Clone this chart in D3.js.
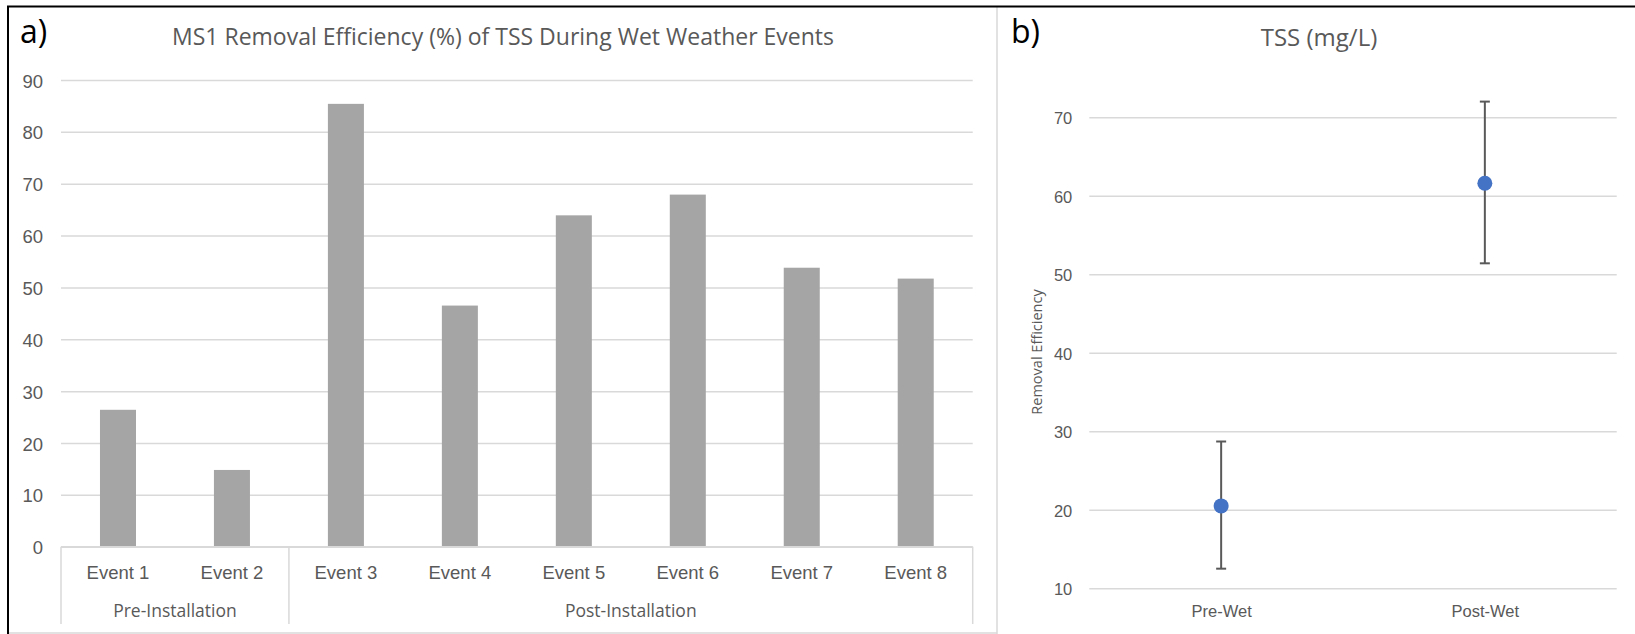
<!DOCTYPE html>
<html>
<head>
<meta charset="utf-8">
<script src="https://cdn.jsdelivr.net/npm/d3@7"></script>
<style>
  body { margin: 0; background: #fff; }
  svg { display: block; font-family: 'Open Sans', sans-serif; }
  .axis .domain { display: none; }
  .axis line { stroke: #d9d9d9; stroke-width: 1.5; }
  .axis text { fill: #595959; }
</style>
</head>
<body>
<div class="chart"></div>
<script>
// panel a data
const events = ['Event 1', 'Event 2', 'Event 3', 'Event 4', 'Event 5', 'Event 6', 'Event 7', 'Event 8'];
const efficiency = [26.4, 14.8, 85.4, 46.5, 63.9, 67.9, 53.8, 51.7];
const phases = ['Pre-Installation', 'Post-Installation'];
const phaseEvents = [2, 6];
const ticksA = [0, 10, 20, 30, 40, 50, 60, 70, 80, 90];

// panel b data
const groups = ['Pre-Wet', 'Post-Wet'];
const means = [20.5, 61.6];
const errLow = [12.5, 51.4];
const errHigh = [28.7, 72.0];
const ticksB = [10, 20, 30, 40, 50, 60, 70];

const W = 1635, H = 634;
const textCol = '#595959', gridCol = '#d9d9d9';

const svg = d3.select('.chart').append('svg')
    .attr('width', W).attr('height', H);

// frame: light panel borders + black top/left edge
svg.append('line').attr('x1', 997).attr('x2', 997).attr('y1', 7).attr('y2', H)
    .style('stroke', gridCol).style('stroke-width', 1.5);
svg.append('line').attr('x1', 8).attr('x2', 997).attr('y1', 633).attr('y2', 633)
    .style('stroke', gridCol).style('stroke-width', 1.5);
svg.append('line').attr('x1', 7).attr('x2', W).attr('y1', 6.5).attr('y2', 6.5)
    .style('stroke', '#000').style('stroke-width', 2);
svg.append('line').attr('x1', 8).attr('x2', 8).attr('y1', 6).attr('y2', H)
    .style('stroke', '#000').style('stroke-width', 2);

//---------------- panel a ----------------
const a = { left: 61, right: 972.7, top: 80, bottom: 546.7 };

const xA = d3.scaleBand().domain(events).range([a.left, a.right])
    .paddingInner(0.684).paddingOuter(0.342);
const yA = d3.scaleLinear().domain([0, 90]).range([a.bottom, a.top]);

const yAxisA = d3.axisLeft(yA).tickValues(ticksA)
    .tickSize(-(a.right - a.left)).tickPadding(18);
svg.append('g').attr('class', 'axis')
    .attr('transform', `translate(${a.left},0)`)
    .call(yAxisA)
    .call(g => g.selectAll('text').style('font-size', '18.5px').attr('dy', '0.38em'));

svg.selectAll('.bar')
    .data(events)
    .enter()
    .append('rect')
    .attr('class', 'bar')
    .attr('x', d => xA(d))
    .attr('width', xA.bandwidth())
    .attr('y', (d, i) => yA(efficiency[i]))
    .attr('height', (d, i) => yA(0) - yA(efficiency[i]))
    .style('fill', '#a5a5a5');

// category axis with two levels
const xAxisA = d3.axisBottom(xA).tickSize(0).tickPadding(19);
svg.append('g').attr('class', 'axis')
    .attr('transform', `translate(0,${a.bottom})`)
    .call(xAxisA)
    .call(g => g.selectAll('text').style('font-size', '18.5px'));

svg.append('line').attr('x1', a.left).attr('x2', a.right)
    .attr('y1', a.bottom).attr('y2', a.bottom)
    .style('stroke', gridCol).style('stroke-width', 1.5);

// group separators + group labels
const starts = d3.cumsum([0].concat(phaseEvents));
const edge = i => i === events.length ? a.right : xA(events[i]) - xA.step() * xA.paddingInner() / 2;
starts.forEach(s => {
    svg.append('line')
        .attr('x1', edge(s)).attr('x2', edge(s))
        .attr('y1', a.bottom).attr('y2', 624)
        .style('stroke', gridCol).style('stroke-width', 1.5);
});
phases.forEach((p, i) => {
    svg.append('text')
        .attr('x', (edge(starts[i]) + edge(starts[i + 1])) / 2)
        .attr('y', 610.7).attr('dy', '0.35em')
        .attr('text-anchor', 'middle')
        .style('font-size', '17.5px').style('fill', textCol)
        .text(p);
});

svg.append('text').attr('x', 503).attr('y', 45)
    .attr('text-anchor', 'middle')
    .style('font-size', '23px').style('fill', textCol)
    .text('MS1 Removal Efficiency (%) of TSS During Wet Weather Events');
svg.append('text').attr('x', 20).attr('y', 43)
    .style('font-size', '32px').style('fill', '#000')
    .text('a)');

//---------------- panel b ----------------
const b = { left: 1089.3, right: 1616.7, top: 117.3, bottom: 588.3 };

const xB = d3.scalePoint().domain(groups).range([b.left, b.right]).padding(0.5);
const yB = d3.scaleLinear().domain([10, 70]).range([b.bottom, b.top]);

const yAxisB = d3.axisLeft(yB).tickValues(ticksB)
    .tickSize(-(b.right - b.left)).tickPadding(17);
svg.append('g').attr('class', 'axis')
    .attr('transform', `translate(${b.left},0)`)
    .call(yAxisB)
    .call(g => g.selectAll('text').style('font-size', '16.5px').attr('dy', '0.38em'));

const xAxisB = d3.axisBottom(xB).tickSize(0).tickPadding(17);
svg.append('g').attr('class', 'axis')
    .attr('transform', `translate(0,${b.bottom})`)
    .call(xAxisB)
    .call(g => g.selectAll('text').style('font-size', '16.5px'));

const err = svg.append('g').selectAll('g')
    .data(groups)
    .enter()
    .append('g')
    .style('stroke', '#595959').style('stroke-width', 2);
err.append('line')
    .attr('x1', d => xB(d)).attr('x2', d => xB(d))
    .attr('y1', (d, i) => yB(errLow[i])).attr('y2', (d, i) => yB(errHigh[i]));
err.append('line')
    .attr('x1', d => xB(d) - 5).attr('x2', d => xB(d) + 5)
    .attr('y1', (d, i) => yB(errLow[i])).attr('y2', (d, i) => yB(errLow[i]));
err.append('line')
    .attr('x1', d => xB(d) - 5).attr('x2', d => xB(d) + 5)
    .attr('y1', (d, i) => yB(errHigh[i])).attr('y2', (d, i) => yB(errHigh[i]));

svg.selectAll('.pt')
    .data(groups)
    .enter()
    .append('circle')
    .attr('class', 'pt')
    .attr('cx', d => xB(d))
    .attr('cy', (d, i) => yB(means[i]))
    .attr('r', 7.5)
    .style('fill', '#4472c4');

svg.append('text')
    .attr('transform', `translate(1037,352) rotate(-90)`)
    .attr('dy', '0.35em')
    .attr('text-anchor', 'middle')
    .style('font-size', '14.5px').style('fill', textCol)
    .text('Removal Efficiency');

svg.append('text').attr('x', 1319).attr('y', 46)
    .attr('text-anchor', 'middle')
    .style('font-size', '24px').style('fill', textCol)
    .text('TSS (mg/L)');
svg.append('text').attr('x', 1011).attr('y', 43)
    .style('font-size', '32px').style('fill', '#000')
    .text('b)');
</script>
</body>
</html>
